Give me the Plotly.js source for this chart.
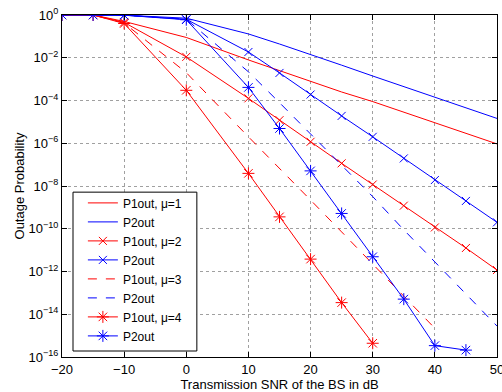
<!DOCTYPE html>
<html>
<head>
<meta charset="utf-8">
<script src="https://cdn.plot.ly/plotly-3.0.1.min.js"></script>
<style>html,body{margin:0;padding:0;background:#fff;}#chart{width:502px;height:392px;}</style>
</head>
<body>
<div id="chart"></div>
<script>
var snr = [-20, -15, -10, 0, 10, 15, 20, 25, 30, 35, 40, 45, 50];

var p1_mu1 = [1, 1, 0.5, 8.9e-2, 7.9e-3, 2.5e-3, 7.9e-4, 2.5e-4, 8.9e-5, 2.8e-5, 8.9e-6, 2.8e-6, 9.3e-7];
var p2_mu1 = [1, 1, 0.98, 0.71, 0.13, 4.4e-2, 1.45e-2, 4.5e-3, 1.4e-3, 4.4e-4, 1.4e-4, 4.5e-5, 1.45e-5];
var p1_mu2 = [1, 1, 0.45, 1.1e-2, 1.26e-4, 1.2e-5, 1.17e-6, 1.15e-7, 1.17e-8, 1.2e-9, 1.15e-10, 1.26e-11, 1.17e-12];
var p2_mu2 = [1, 1, 0.98, 0.63, 1.86e-2, 1.95e-3, 1.9e-4, 1.9e-5, 2e-6, 1.95e-7, 1.9e-8, 2e-9, 2e-10];
var p1_mu3 = [1, 1, 0.42, 2e-3, 2e-6, 6.3e-8, 2.2e-9, 7.1e-11, 2.2e-12, 7.1e-14, 2.2e-15, null, null];
var p2_mu3 = [1, 1, 0.98, 0.63, 2.2e-3, 7.9e-5, 2.8e-6, 1e-7, 3.2e-9, 8.9e-11, 2.8e-12, 8.9e-14, 2.8e-15];
var p1_mu4 = [1, 1, 0.4, 3e-4, 3.9e-8, 3.6e-10, 3.8e-12, 3.5e-14, 4.4e-16, null, null, null, null];
var p2_mu4 = [1, 1, 0.98, 0.6, 4.1e-4, 4.9e-6, 5.1e-8, 5.2e-10, 4.9e-12, 5.1e-14, 3.4e-16, 2.1e-16, null];

var names = ["P1out, \u03bc=1", "P2out", "P1out, \u03bc=2", "P2out", "P1out, \u03bc=3", "P2out", "P1out, \u03bc=4", "P2out"];

var yTickVals = [1, 1e-2, 1e-4, 1e-6, 1e-8, 1e-10, 1e-12, 1e-14, 1e-16];
var yTickText = ["10<sup>0</sup>", "10<sup>\u22122</sup>", "10<sup>\u22124</sup>", "10<sup>\u22126</sup>",
                 "10<sup>\u22128</sup>", "10<sup>\u221210</sup>", "10<sup>\u221212</sup>",
                 "10<sup>\u221214</sup>", "10<sup>\u221216</sup>"];

var RED = "#ff0000", BLUE = "#0000ff";

function tr(y, name, color, dash, symbol) {
  var t = {
    x: snr, y: y, name: name, type: "scatter",
    mode: symbol ? "lines+markers" : "lines",
    line: {color: color, width: 1, dash: dash || "solid"},
    connectgaps: false,
    hoverinfo: "skip"
  };
  if (symbol) {
    t.marker = {symbol: symbol, size: symbol === "asterisk" ? 10 : 8, color: color,
                line: {color: color, width: 1}};
  }
  return t;
}

var data = [
  tr(p1_mu1, names[0], RED),
  tr(p2_mu1, names[1], BLUE),
  tr(p1_mu2, names[2], RED, "solid", "x-thin"),
  tr(p2_mu2, names[3], BLUE, "solid", "x-thin"),
  tr(p1_mu3, names[4], RED, "dash"),
  tr(p2_mu3, names[5], BLUE, "dash"),
  tr(p1_mu4, names[6], RED, "solid", "asterisk"),
  tr(p2_mu4, names[7], BLUE, "solid", "asterisk")
];

var FONT = "Liberation Sans, Arial, Helvetica, sans-serif";

var layout = {
  width: 502, height: 392,
  margin: {l: 62, r: 5, t: 15, b: 35, pad: 0},
  paper_bgcolor: "#fff", plot_bgcolor: "#fff",
  font: {family: FONT, size: 13, color: "#000"},
  showlegend: true,
  legend: {
    x: 0.048, y: 0.493, xanchor: "left", yanchor: "top",
    bgcolor: "rgba(0,0,0,0)", borderwidth: 0,
    font: {family: FONT, size: 12, color: "#000"}
  },
  shapes: [{
    type: "rect", xref: "paper", yref: "paper", layer: "above",
    x0: 0.0253, x1: 0.310, y0: 0.0175, y1: 0.482,
    fillcolor: "#fff", line: {color: "#000", width: 1}
  }],
  xaxis: {
    range: [-20, 50], tick0: 0, dtick: 10,
    showline: true, linecolor: "#000", linewidth: 1, mirror: "ticks",
    ticks: "inside", ticklen: 5, tickcolor: "#000",
    showgrid: true, gridcolor: "#a0a0a0", griddash: "dot", gridwidth: 1,
    zeroline: false, ticklabeloverflow: "allow",
    tickfont: {family: FONT, size: 13},
    title: {text: "Transmission SNR of the BS in dB", font: {family: FONT, size: 13}, standoff: 2}
  },
  yaxis: {
    type: "log", range: [-16, 0], tickmode: "array", tickvals: yTickVals, ticktext: yTickText,
    showline: true, linecolor: "#000", linewidth: 1, mirror: "ticks",
    ticks: "inside", ticklen: 5, tickcolor: "#000",
    showgrid: true, gridcolor: "#a0a0a0", griddash: "dot", gridwidth: 1,
    zeroline: false, ticklabeloverflow: "allow",
    tickfont: {family: FONT, size: 13},
    title: {text: "Outage Probability", font: {family: FONT, size: 13}, standoff: 0}
  }
};

Plotly.newPlot("chart", data, layout, {staticPlot: true, displayModeBar: false});
</script>
</body>
</html>
